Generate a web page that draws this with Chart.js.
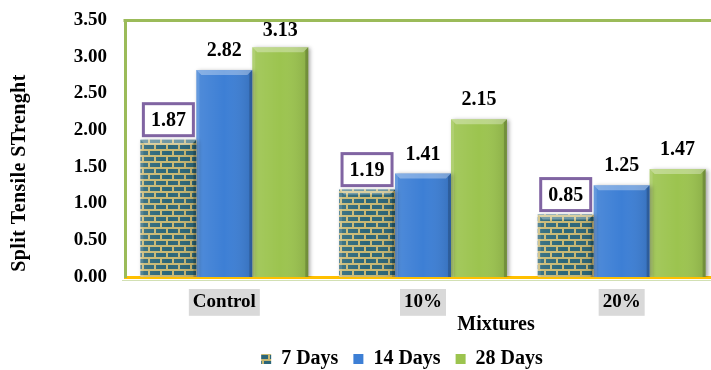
<!DOCTYPE html>
<html>
<head>
<meta charset="utf-8">
<script src="https://cdn.jsdelivr.net/npm/chart.js@4.4.1/dist/chart.umd.min.js"></script>
<style>
  html, body { margin: 0; padding: 0; background: #fff; overflow: hidden; width: 711px; height: 370px; }
  #wrap { position: relative; width: 740px; height: 370px; }
</style>
</head>
<body>
<div id="wrap"><canvas id="c" width="740" height="370"></canvas></div>
<script>
// Split tensile strength by mixture and curing age
const mixtures = ['Control', '10%', '20%'];
const seriesNames = ['7 Days', '14 Days', '28 Days'];
const days7 = [1.87, 1.19, 0.85];
const days14 = [2.82, 1.41, 1.25];
const days28 = [3.13, 2.15, 1.47];
const yMin = 0, yMax = 3.5, yStep = 0.5;
const yTitle = 'Split Tensile STrenght';
const xTitle = 'Mixtures';

const SERIF = '"Liberation Serif", "Times New Roman", serif';

// brick texture for the 7-day bars
function brickPattern() {
  const c = document.createElement('canvas');
  c.width = 12; c.height = 12;
  const g = c.getContext('2d');
  g.fillStyle = '#c8b872';
  g.fillRect(0, 0, 12, 12);
  g.fillStyle = '#2b6678';
  g.fillRect(0, 1, 10, 4);
  g.fillRect(6, 7, 6, 4);
  g.fillRect(0, 7, 4, 4);
  return g.createPattern(c, 'repeat');
}

const barColors = [brickPattern(), '#3d7fd5', '#9cc44f'];

// shift the legend row so it sits under the middle of the page
const legendShift = {
  id: 'legendShift',
  afterLayout(chart) {
    const lg = chart.legend;
    if (lg) { lg.left += 41.5; lg.right += 41.5; }
  }
};

// soft drop shadow under the bars, then bevels, frame line and value labels on top
const decorations = {
  id: 'decorations',
  beforeDatasetsDraw(chart) {
    const ctx = chart.ctx;
    ctx.save();
    ctx.shadowColor = 'rgba(0,0,0,0.35)';
    ctx.shadowBlur = 4;
    ctx.shadowOffsetX = 2;
    ctx.shadowOffsetY = 1;
  },
  afterDatasetsDraw(chart) {
    const ctx = chart.ctx;
    ctx.restore();
    const area = chart.chartArea;

    // bevelled look on each bar
    chart.data.datasets.forEach((ds, di) => {
      chart.getDatasetMeta(di).data.forEach(el => {
        const w = el.width, l = el.x - w / 2, r = el.x + w / 2, t = el.y, b = el.base;
        const bv = 5;
        ctx.save();
        const g = ctx.createLinearGradient(l, 0, r, 0);
        g.addColorStop(0, 'rgba(255,255,255,0.10)');
        g.addColorStop(0.5, 'rgba(255,255,255,0.0)');
        g.addColorStop(1, 'rgba(0,0,0,0.12)');
        ctx.fillStyle = g;
        ctx.fillRect(l, t, w, b - t);
        ctx.beginPath();
        ctx.moveTo(l, t); ctx.lineTo(r, t); ctx.lineTo(r - bv, t + bv); ctx.lineTo(l + bv, t + bv); ctx.closePath();
        ctx.fillStyle = 'rgba(255,255,255,0.32)';
        ctx.fill();
        ctx.beginPath();
        ctx.moveTo(r, t); ctx.lineTo(r, b); ctx.lineTo(r - 3, b); ctx.lineTo(r - 3, t + bv - 2); ctx.closePath();
        ctx.fillStyle = 'rgba(0,0,0,0.18)';
        ctx.fill();
        ctx.beginPath();
        ctx.moveTo(l, t); ctx.lineTo(l + 3, t + bv - 2); ctx.lineTo(l + 3, b); ctx.lineTo(l, b); ctx.closePath();
        ctx.fillStyle = 'rgba(255,255,255,0.12)';
        ctx.fill();
        ctx.restore();
      });
    });

    // top frame line and the faint rule under the category axis
    ctx.save();
    ctx.strokeStyle = '#9bbb59';
    ctx.lineWidth = 3;
    ctx.beginPath();
    ctx.moveTo(area.left - 1.5, area.top + 0.5);
    ctx.lineTo(chart.width, area.top + 0.5);
    ctx.stroke();
    ctx.strokeStyle = 'rgba(155,187,89,0.45)';
    ctx.lineWidth = 1;
    ctx.beginPath();
    ctx.moveTo(area.left - 3, area.bottom + 3.5);
    ctx.lineTo(chart.width, area.bottom + 3.5);
    ctx.stroke();
    ctx.restore();

    // value labels; the 7-day values sit in outlined boxes
    ctx.save();
    ctx.font = 'bold 20px ' + SERIF;
    ctx.textAlign = 'center';
    ctx.textBaseline = 'middle';
    chart.data.datasets.forEach((ds, di) => {
      chart.getDatasetMeta(di).data.forEach((el, i) => {
        const v = ds.data[i];
        const cy = Math.max(el.y - 20, area.top + 10);
        if (di === 0) {
          ctx.fillStyle = '#fff';
          ctx.fillRect(el.x - 25, cy - 16, 50, 32);
          ctx.strokeStyle = '#8064a2';
          ctx.lineWidth = 3;
          ctx.strokeRect(el.x - 25, cy - 16, 50, 32);
        }
        ctx.fillStyle = '#000';
        ctx.fillText(v.toFixed(2), el.x, cy + 1);
      });
    });
    ctx.restore();
  },
  afterDraw(chart) {
    // axis titles
    const ctx = chart.ctx;
    ctx.save();
    ctx.fillStyle = '#000';
    ctx.font = 'bold 20px ' + SERIF;
    ctx.textAlign = 'center';
    ctx.textBaseline = 'middle';
    ctx.fillText(xTitle, 496, 325);
    ctx.translate(20, 173);
    ctx.rotate(-Math.PI / 2);
    ctx.letterSpacing = '0.4px';
    ctx.fillText(yTitle, 0, 0);
    ctx.restore();
  }
};

new Chart(document.getElementById('c'), {
  type: 'bar',
  data: {
    labels: mixtures,
    datasets: [
      { label: seriesNames[0], data: days7, backgroundColor: barColors[0] },
      { label: seriesNames[1], data: days14, backgroundColor: barColors[1] },
      { label: seriesNames[2], data: days28, backgroundColor: barColors[2] }
    ]
  },
  options: {
    responsive: false,
    animation: false,
    devicePixelRatio: 1,
    layout: { padding: { left: 0, right: 19, top: 10, bottom: -9 } },
    datasets: { bar: { categoryPercentage: 0.845, barPercentage: 1, borderWidth: 0 } },
    plugins: {
      legend: {
        position: 'bottom',
        labels: {
          boxWidth: 10, boxHeight: 10, padding: 15, color: '#000',
          font: { family: SERIF, size: 20, weight: 'bold' }
        }
      },
      tooltip: { enabled: false }
    },
    scales: {
      x: {
        grid: { display: false, drawTicks: false },
        border: { color: '#ffc000', width: 3 },
        ticks: {
          color: '#000', padding: 14,
          font: { family: SERIF, size: 19, weight: 'bold' },
          showLabelBackdrop: true, backdropColor: '#d9d9d9',
          backdropPadding: { top: 2, bottom: 2, left: 4, right: 4 }
        },
        afterFit(s) { s.height = 57; }
      },
      y: {
        min: yMin, max: yMax,
        grid: { display: false, drawTicks: true, tickLength: 9.4, tickColor: 'rgba(0,0,0,0)' },
        border: { color: '#9bbb59', width: 3 },
        ticks: {
          stepSize: yStep, padding: 8.6, color: '#000',
          font: { family: SERIF, size: 19, weight: 'bold' },
          callback: v => v.toFixed(2)
        },
        afterFit(s) { s.width = 125; }
      }
    }
  },
  plugins: [legendShift, decorations]
});
</script>
</body>
</html>
